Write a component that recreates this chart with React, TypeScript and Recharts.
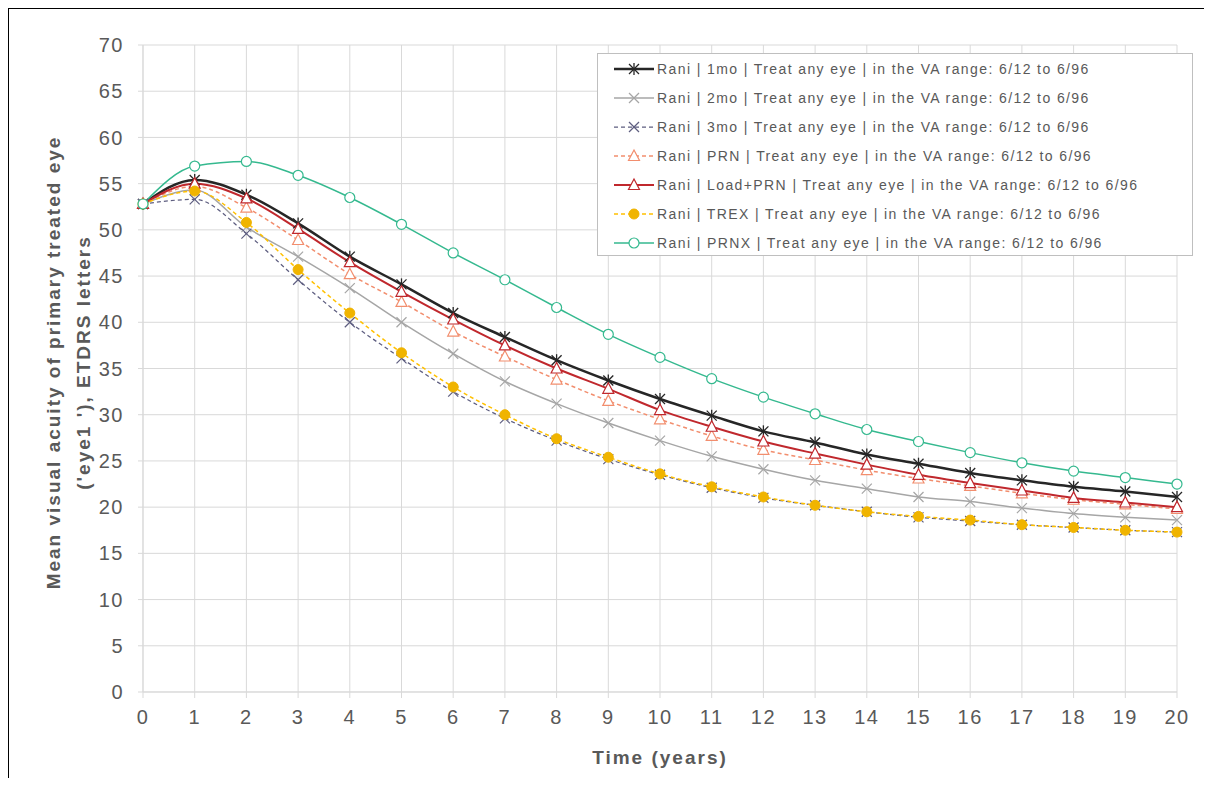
import React from 'react';
import { LineChart, Line, XAxis, YAxis, CartesianGrid } from 'recharts';

const years = [0, 1, 2, 3, 4, 5, 6, 7, 8, 9, 10, 11, 12, 13, 14, 15, 16, 17, 18, 19, 20];
const oneMo = [52.8, 55.4, 53.8, 50.7, 47.1, 44.1, 41.0, 38.4, 35.9, 33.7, 31.7, 29.9, 28.2, 27.0, 25.7, 24.7, 23.7, 22.9, 22.2, 21.7, 21.1];
const twoMo = [52.8, 54.3, 50.3, 47.1, 43.7, 40.0, 36.6, 33.6, 31.2, 29.1, 27.2, 25.5, 24.1, 22.9, 22.0, 21.1, 20.6, 19.9, 19.3, 18.9, 18.6];
const threeMo = [52.8, 53.3, 49.6, 44.6, 40.0, 36.1, 32.5, 29.6, 27.2, 25.2, 23.5, 22.1, 21.0, 20.2, 19.5, 18.9, 18.5, 18.1, 17.8, 17.5, 17.3];
const prn = [52.8, 54.7, 52.4, 48.9, 45.2, 42.2, 39.0, 36.3, 33.8, 31.5, 29.5, 27.7, 26.2, 25.1, 24.0, 23.1, 22.3, 21.5, 20.8, 20.3, 19.8];
const loadPrn = [52.8, 55.0, 53.4, 50.1, 46.5, 43.3, 40.3, 37.5, 35.0, 32.8, 30.5, 28.7, 27.1, 25.8, 24.6, 23.5, 22.6, 21.8, 21.0, 20.5, 20.0];
const trex = [52.8, 54.2, 50.8, 45.7, 41.0, 36.7, 33.0, 30.0, 27.4, 25.4, 23.6, 22.2, 21.1, 20.2, 19.5, 19.0, 18.6, 18.1, 17.8, 17.5, 17.3];
const prnx = [52.8, 56.9, 57.4, 55.9, 53.5, 50.6, 47.5, 44.6, 41.6, 38.7, 36.2, 33.9, 31.9, 30.1, 28.4, 27.1, 25.9, 24.8, 23.9, 23.2, 22.5];
const yTicks = [0, 5, 10, 15, 20, 25, 30, 35, 40, 45, 50, 55, 60, 65, 70];

type Marker = 'star' | 'x' | 'triangle' | 'dot' | 'circle';

const series = [
  { key: 'oneMo', values: oneMo, name: 'Rani | 1mo | Treat any eye | in the VA range: 6/12 to 6/96', color: '#262626', width: 2.5, dash: undefined, marker: 'star' as Marker, fill: 'none' },
  { key: 'twoMo', values: twoMo, name: 'Rani | 2mo | Treat any eye | in the VA range: 6/12 to 6/96', color: '#a6a6a6', width: 1.5, dash: undefined, marker: 'x' as Marker, fill: 'none' },
  { key: 'threeMo', values: threeMo, name: 'Rani | 3mo | Treat any eye | in the VA range: 6/12 to 6/96', color: '#5e5e80', width: 1.25, dash: '4 3', marker: 'x' as Marker, fill: 'none' },
  { key: 'prn', values: prn, name: 'Rani | PRN | Treat any eye | in the VA range: 6/12 to 6/96', color: '#f28e6e', width: 1.5, dash: '4 3', marker: 'triangle' as Marker, fill: '#fff' },
  { key: 'loadPrn', values: loadPrn, name: 'Rani | Load+PRN | Treat any eye | in the VA range: 6/12 to 6/96', color: '#c0282d', width: 2, dash: undefined, marker: 'triangle' as Marker, fill: '#fff' },
  { key: 'trex', values: trex, name: 'Rani | TREX | Treat any eye | in the VA range: 6/12 to 6/96', color: '#ffc000', width: 1.5, dash: '4 3', marker: 'dot' as Marker, fill: '#f0b400' },
  { key: 'prnx', values: prnx, name: 'Rani | PRNX | Treat any eye | in the VA range: 6/12 to 6/96', color: '#35b98f', width: 1.5, dash: undefined, marker: 'circle' as Marker, fill: '#fff' },
];

const data = years.map((t, i) => {
  const row: Record<string, number> = { t };
  series.forEach((s) => { row[s.key] = s.values[i]; });
  return row;
});

function drawMarker(m: Marker, cx: number, cy: number, color: string, fill: string, key?: string) {
  const r = 5;
  if (m === 'star') {
    return (
      <g key={key} stroke={color} strokeWidth={1.3}>
        <line x1={cx - r} y1={cy - r} x2={cx + r} y2={cy + r} />
        <line x1={cx - r} y1={cy + r} x2={cx + r} y2={cy - r} />
        <line x1={cx} y1={cy - r - 1} x2={cx} y2={cy + r + 1} />
      </g>
    );
  }
  if (m === 'x') {
    return (
      <g key={key} stroke={color} strokeWidth={1.2}>
        <line x1={cx - r} y1={cy - r} x2={cx + r} y2={cy + r} />
        <line x1={cx - r} y1={cy + r} x2={cx + r} y2={cy - r} />
      </g>
    );
  }
  if (m === 'triangle') {
    return (
      <polygon key={key} points={`${cx},${cy - 6} ${cx + 5.5},${cy + 4.5} ${cx - 5.5},${cy + 4.5}`} stroke={color} strokeWidth={1.2} fill={fill} />
    );
  }
  if (m === 'dot') {
    return <circle key={key} cx={cx} cy={cy} r={5} fill={fill} stroke={fill} />;
  }
  return <circle key={key} cx={cx} cy={cy} r={5} fill={fill} stroke={color} strokeWidth={1.2} />;
}

const LegendBox = () => (
  <div style={{ position: 'absolute', left: 589, top: 45, border: '1px solid #bfbfbf', background: '#fff', width: 594, height: 201 }}>
    <svg width={594} height={201} style={{ display: 'block' }}>
      {series.map((s, i) => {
        const y = 15 + i * 29;
        return (
          <g key={s.key}>
            <line x1={16} x2={56} y1={y} y2={y} stroke={s.color} strokeWidth={s.width} strokeDasharray={s.dash} />
            {drawMarker(s.marker, 36, y, s.color, s.fill)}
            <text x={59} y={y + 5} fontSize={14} letterSpacing={1.4} fill="#595959" fontFamily="Liberation Sans, Arial, sans-serif">{s.name}</text>
          </g>
        );
      })}
    </svg>
  </div>
);

const YLabel = (props: any) => {
  const vb = props.viewBox || {};
  const cy = vb.y + vb.height / 2 - 6;
  return (
    <g>
      <text transform={`translate(52, ${cy}) rotate(-90)`} textAnchor="middle" fontSize={19} letterSpacing={2} fontWeight="bold" fill="#595959">
        Mean visual acuity of primary treated eye
      </text>
      <text transform={`translate(82, ${cy}) rotate(-90)`} textAnchor="middle" fontSize={19} letterSpacing={2} fontWeight="bold" fill="#595959">
        ('eye1 '), ETDRS letters
      </text>
    </g>
  );
};

const tickStyle = { fill: '#595959', fontSize: 20, letterSpacing: 1.5 };

export default function App() {
  return (
    <div style={{ position: 'relative', width: 1196, height: 770, fontFamily: 'Liberation Sans, Arial, sans-serif' }}>
      <div style={{ position: 'absolute', left: -1, top: -1, width: 1204, height: 2, background: '#000' }} />
      <div style={{ position: 'absolute', left: -1, top: -1, width: 2, height: 782, background: '#000' }} />
      <LineChart width={1196} height={770} data={data} margin={{ top: 37, right: 27, left: 0, bottom: 46 }}>
        <CartesianGrid stroke="#d9d9d9" />
        <XAxis
          dataKey="t"
          type="number"
          domain={[0, 20]}
          ticks={years}
          interval={0}
          height={40}
          stroke="#d9d9d9"
          tickSize={6}
          tickMargin={12}
          tick={tickStyle}
          label={{ value: 'Time (years)', position: 'insideBottom', offset: -32, fill: '#595959', fontSize: 19, fontWeight: 'bold', letterSpacing: 2 }}
        />
        <YAxis
          type="number"
          domain={[0, 70]}
          ticks={yTicks}
          interval={0}
          width={135}
          stroke="#d9d9d9"
          tickSize={5}
          tickMargin={14}
          tick={tickStyle}
          label={<YLabel />}
        />
        {series.map((s) => (
          <Line
            key={s.key}
            type="monotone"
            dataKey={s.key}
            name={s.name}
            stroke={s.color}
            strokeWidth={s.width}
            strokeDasharray={s.dash}
            isAnimationActive={false}
            dot={(p: any) => drawMarker(s.marker, p.cx, p.cy, s.color, s.fill, `${s.key}-${p.index}`)}
            activeDot={false}
          />
        ))}
      </LineChart>
      <LegendBox />
    </div>
  );
}
